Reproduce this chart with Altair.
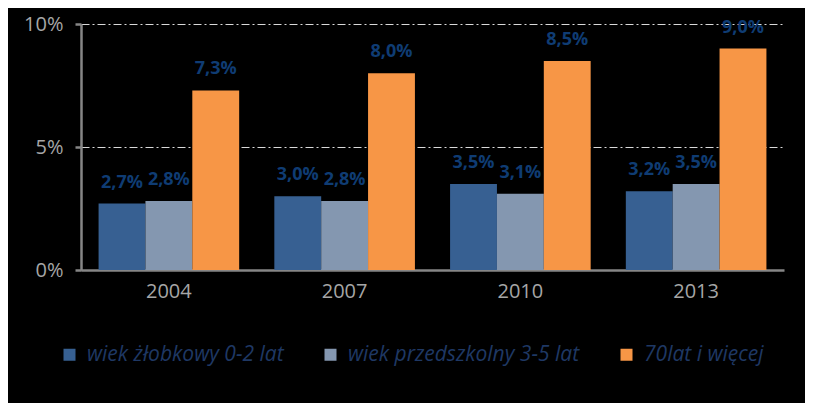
import altair as alt
import pandas as pd

years = ["2004", "2007", "2010", "2013"]
series = ["wiek żłobkowy 0-2 lat", "wiek przedszkolny 3-5 lat", "70lat i więcej"]
s_nursery = [2.7, 3.0, 3.5, 3.2]
s_preschool = [2.8, 2.8, 3.1, 3.5]
s_elderly = [7.3, 8.0, 8.5, 9.0]
colors = ["#376092", "#8497B0", "#F79646"]

rows = []
for i, y in enumerate(years):
    for k, (name, vals) in enumerate(zip(series, [s_nursery, s_preschool, s_elderly])):
        v = vals[i]
        rows.append({"year": y, "series": name, "order": k, "value": v / 100,
                     "label": f"{v:.1f}".replace(".", ",") + "%"})
df = pd.DataFrame(rows)

FONT = "Open Sans"
x = alt.X("year:N", sort=years, title=None,
          scale=alt.Scale(paddingInner=0.2, paddingOuter=0.1),
          axis=alt.Axis(labelAngle=0, labelFontSize=20, labelColor="#A6A6A6", labelFont=FONT,
                        ticks=False, domainColor="#868686", domainWidth=2.5, labelPadding=11))
xo = alt.XOffset("series:N", sort=series)
y = alt.Y("value:Q", title=None,
          scale=alt.Scale(domain=[0, 0.1], nice=False),
          axis=alt.Axis(values=[0, 0.05, 0.1], format=".0%", labelFontSize=20,
                        labelColor="#A6A6A6", labelFont=FONT, domainColor="#868686",
                        domainWidth=2.5, tickColor="#868686", tickWidth=2.5, tickSize=6,
                        labelPadding=12, grid=True, gridColor="#D9D9D9", gridWidth=1,
                        gridDash=[8, 3, 2, 3]))

bars = alt.Chart(df).mark_bar().encode(
    x=x, xOffset=xo, y=y,
    color=alt.Color("series:N", sort=series,
                    scale=alt.Scale(domain=series, range=colors),
                    legend=alt.Legend(title=None, orient="none", direction="horizontal",
                                      legendX=-22, legendY=320, symbolType="square",
                                      symbolSize=144, symbolStrokeWidth=0,
                                      labelFontSize=21, labelFont=FONT, labelFontStyle="italic",
                                      labelColor="#1F3864", columnPadding=36, labelOffset=7,
                                      labelLimit=300)),
)

labels = alt.Chart(df).mark_text(font=FONT, fontSize=18, fontWeight="bold", color="#0F3C73",
                                 baseline="alphabetic", dy=-16).encode(
    x=alt.X("year:N", sort=years), xOffset=xo, y="value:Q", text="label:N")

chart = alt.layer(bars, labels).properties(
    width=703, height=246, background="black",
    autosize=alt.AutoSizeParams(type="none"),
    padding={"left": 73, "top": 16, "right": 21, "bottom": 133},
).configure_view(stroke=None)

chart.save("out.html", embed_options={"renderer": "svg", "actions": False})
